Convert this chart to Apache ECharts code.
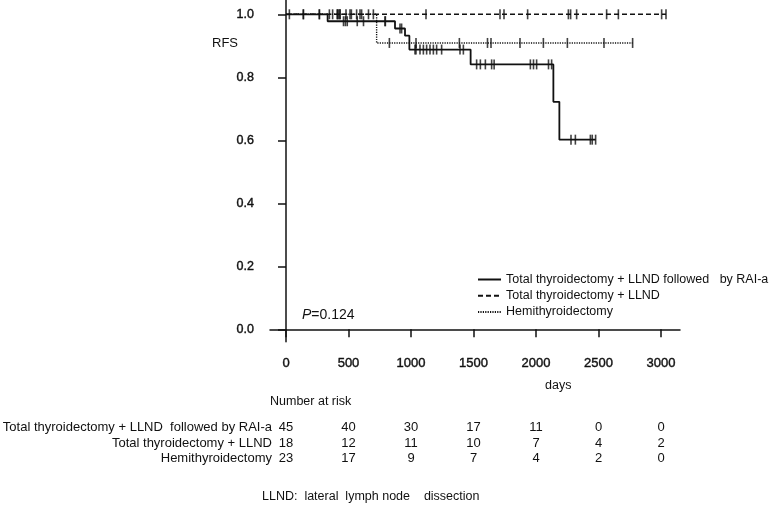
<!DOCTYPE html>
<html>
<head>
<meta charset="utf-8">
<script src="https://cdn.jsdelivr.net/npm/echarts@6.0.0/dist/echarts.min.js"></script>
<style>
html,body{margin:0;padding:0;background:#fff;}
#main{width:778px;height:507px;}
</style>
</head>
<body>
<div id="main"></div>
<script>
// series names (legend)
var seriesNames = ['Total thyroidectomy + LLND followed   by RAI-a', 'Total thyroidectomy + LLND', 'Hemithyroidectomy'];

// Total thyroidectomy + LLND followed by RAI-a
var raiTimes = [0, 333, 872, 952, 987, 1477, 2139, 2187];
var raiSurv = [1, 0.978, 0.955, 0.932, 0.888, 0.841, 0.722, 0.602];
var raiEnd = 2477;
var raiCensor = [139, 460, 475, 490, 570, 620, 792, 795, 912, 925, 1032, 1040, 1072, 1099, 1125, 1152, 1179, 1205, 1245,
    1392, 1419, 1525, 1555, 1595, 1645, 1665, 1955, 1980, 2005, 2100, 2125, 2280, 2315, 2435, 2450, 2477];

// Total thyroidectomy + LLND
var llndTimes = [0];
var llndSurv = [1];
var llndEnd = 3040;
var llndCensor = [27, 139, 267, 373, 411, 432, 565, 1120, 1712, 1744, 1933, 2259, 2277, 2325, 2565, 2659, 3005, 3040];

// Hemithyroidectomy
var hemiTimes = [0, 725];
var hemiSurv = [1, 0.909];
var hemiEnd = 2773;
var hemiCensor = [267, 347, 411, 421, 432, 480, 512, 523, 592, 605, 660, 699, 827, 1040, 1387, 1612, 1640, 1872,
    2059, 2251, 2544, 2773];

// axes
var xTicks = [0, 500, 1000, 1500, 2000, 2500, 3000];
var yTicks = [0, 0.2, 0.4, 0.6, 0.8, 1.0];

// number at risk
var riskLabels = ['Total thyroidectomy + LLND  followed by RAI-a', 'Total thyroidectomy + LLND', 'Hemithyroidectomy'];
var riskDays = [0, 500, 1000, 1500, 2000, 2500, 3000];
var riskRai = [45, 40, 30, 17, 11, 0, 0];
var riskLlnd = [18, 12, 11, 10, 7, 4, 2];
var riskHemi = [23, 17, 9, 7, 4, 2, 0];

var FONT = '"Liberation Sans", Arial, sans-serif';
var INK = '#111';

//阶梯数据
function stepData(times, surv, end){
    var arr = [];
    for (var i = 0; i < times.length; i++) {
        arr.push([times[i], surv[i]]);
    }
    arr.push([end, surv[surv.length - 1]]);
    return arr;
}

//删失点所在高度
function survAt(times, surv, t){
    var v = surv[0];
    for (var i = 0; i < times.length; i++) {
        if (times[i] <= t) v = surv[i];
    }
    return v;
}

function censorData(times, surv, cens){
    return cens.map(function(t){ return [t, survAt(times, surv, t)]; });
}

function lineSeries(name, data, type, width){
    return {
        name: name,
        type: 'line',
        step: 'end',
        symbol: 'none',
        showSymbol: false,
        data: data,
        z: 3,
        lineStyle: {color: INK, width: width, type: type},
        itemStyle: {color: INK}
    };
}

function censorSeries(data){
    return {
        type: 'scatter',
        symbol: 'rect',
        symbolSize: [1.6, 10],
        data: data,
        z: 4,
        silent: true,
        itemStyle: {color: INK}
    };
}

var chart = echarts.init(document.getElementById('main'));

var option = {
    animation: false,
    backgroundColor: '#fff',
    textStyle: {fontFamily: FONT},
    grid: {left: 270, right: 98, top: 0, bottom: 165.3},
    legend: {
        data: seriesNames,
        orient: 'vertical',
        left: 477,
        top: 273,
        padding: 0,
        itemWidth: 23,
        itemHeight: 12,
        itemGap: 3.2,
        selectedMode: false,
        itemStyle: {opacity: 0},
        textStyle: {fontFamily: FONT, fontSize: 12.5, color: INK}
    },
    xAxis: {
        type: 'value',
        min: -128,
        max: 3152,
        splitLine: {show: false},
        axisLine: {lineStyle: {color: INK, width: 1.5}},
        axisTick: {customValues: xTicks, length: 8, lineStyle: {color: INK, width: 1.5}},
        axisLabel: {
            customValues: xTicks, margin: 15, fontSize: 13, color: INK, fontFamily: FONT,
            textBorderColor: INK, textBorderWidth: 0.4,
            formatter: function(v){ return String(v); }
        }
    },
    yAxis: {
        type: 'value',
        min: -0.0394,
        max: 1.0454,
        splitLine: {show: false},
        axisLine: {show: true, lineStyle: {color: INK, width: 1.5}},
        axisTick: {show: true, customValues: yTicks, length: 8, lineStyle: {color: INK, width: 1.5}},
        axisLabel: {
            customValues: yTicks, margin: 16, fontSize: 12.5, color: INK, fontFamily: FONT,
            textBorderColor: INK, textBorderWidth: 0.4,
            formatter: function(v){ return v.toFixed(1); }
        }
    },
    series: [
        lineSeries(seriesNames[0], stepData(raiTimes, raiSurv, raiEnd), 'solid', 1.8),
        lineSeries(seriesNames[1], stepData(llndTimes, llndSurv, llndEnd), [5, 3], 1.4),
        lineSeries(seriesNames[2], stepData(hemiTimes, hemiSurv, hemiEnd), [1.2, 1.2], 1.4),
        censorSeries(censorData(raiTimes, raiSurv, raiCensor)),
        censorSeries(censorData(llndTimes, llndSurv, llndCensor)),
        censorSeries(censorData(hemiTimes, hemiSurv, hemiCensor))
    ]
};
chart.setOption(option);

// 文字与风险表
var txt = {fontFamily: FONT, fontSize: 12.5, fill: INK};
var graphics = [
    {type: 'text', left: 212, top: 37, style: $extend({text: 'RFS', fontSize: 13})},
    {type: 'text', left: 302, top: 308, style: $extend({
        text: '{i|P}{n|=0.124}',
        rich: {i: {fontStyle: 'italic', fontSize: 14, fontFamily: FONT, fill: INK}, n: {fontSize: 14, fontFamily: FONT, fill: INK}}
    })},
    {type: 'text', left: 545, top: 379, style: $extend({text: 'days'})},
    {type: 'text', left: 270, top: 395, style: $extend({text: 'Number at risk'})},
    {type: 'text', left: 262, top: 490, style: $extend({text: 'LLND:  lateral  lymph node    dissection'})}
];

var rows = [riskRai, riskLlnd, riskHemi];
var rowY = [427, 443, 458];
for (var r = 0; r < rows.length; r++) {
    graphics.push({type: 'text', x: 272, y: rowY[r], style: $extend({text: riskLabels[r], align: 'right', verticalAlign: 'middle', fontSize: 13})});
    for (var c = 0; c < riskDays.length; c++) {
        var px = chart.convertToPixel({xAxisIndex: 0}, riskDays[c]);
        graphics.push({type: 'text', x: px, y: rowY[r], style: $extend({text: String(rows[r][c]), align: 'center', verticalAlign: 'middle', fontSize: 13})});
    }
}

function $extend(o){
    var s = {};
    for (var k in txt) s[k] = txt[k];
    for (var k2 in o) s[k2] = o[k2];
    return s;
}

chart.setOption({graphic: graphics});
</script>
</body>
</html>
